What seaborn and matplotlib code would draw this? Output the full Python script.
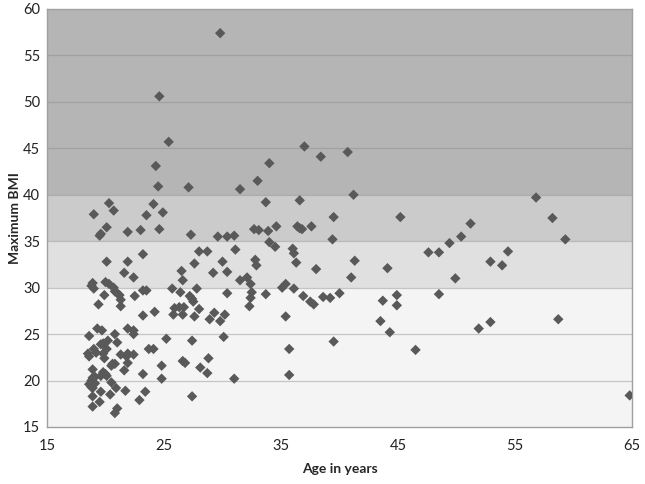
import matplotlib
matplotlib.use("Agg")
import matplotlib.pyplot as plt
import seaborn as sns
import pandas as pd

# age (years) and maximum BMI
age = [29.8, 24.6, 25.4, 24.3, 24.5, 27.1, 31.5, 33.0, 34.0, 37.0, 38.4, 40.7, 41.2,
       20.3, 19.0, 20.7, 24.1, 24.9, 23.5, 33.7, 36.6, 39.5, 34.6, 36.4, 36.8, 37.6,
       32.7, 33.1, 33.9, 20.1, 19.5, 19.6, 21.9, 23.0, 24.6, 27.3, 29.6, 30.4, 31.0,
       39.4, 36.6,
       23.2, 28.0, 28.7, 31.1, 20.1, 21.9, 32.8, 32.9, 27.6, 30.0, 21.6, 22.4, 26.5,
       29.2, 30.4, 26.6, 31.5, 32.1, 32.4, 18.9, 19.0, 18.8, 20.0, 20.3, 20.7, 20.8,
       21.0, 21.2, 21.3, 21.3, 19.9, 19.4, 22.5, 23.2, 23.5, 25.7, 26.4, 27.8, 27.2,
       27.4, 27.5, 30.4, 32.5, 32.4, 32.3, 25.9, 26.3, 26.7, 25.8, 26.6, 23.2, 24.2,
       27.6, 28.0, 28.9, 29.3, 29.8, 30.2, 19.3, 19.7, 18.6, 20.8, 21.9, 22.4, 22.4,
       25.2, 27.4, 30.1, 20.2, 19.8, 19.6, 21.0, 19.0, 19.2, 18.6, 18.5, 20.1, 19.8,
       19.9, 21.3, 21.9, 22.4, 21.8, 23.7, 24.1, 26.6, 26.8, 28.8, 28.1, 28.7, 24.8,
       31.0, 24.8, 23.2, 20.8, 20.5, 20.6, 21.9, 21.6, 18.9, 19.8, 20.0, 19.6, 20.1,
       18.9, 19.1, 18.8, 19.1, 18.6, 18.8, 18.9, 20.5, 20.9, 21.7, 19.6, 20.4, 23.4,
       22.9, 27.4, 18.9, 19.5, 18.9, 21.0, 20.8,
       45.2, 34.0, 34.5, 36.0, 36.1, 36.3, 38.0, 41.3, 47.6, 48.5, 44.1, 41.0, 35.1,
       35.4, 36.1, 33.7, 36.9, 37.5, 37.8, 38.6, 39.2, 40.0, 35.4, 43.7, 44.9, 44.9,
       48.5, 43.5, 44.3, 39.5, 35.7, 46.5, 35.7,
       56.8, 58.2, 59.3, 51.2, 50.4, 49.4, 54.4, 52.9, 53.9, 49.9, 51.9, 52.9, 58.7,
       64.8]
bmi = [57.4, 50.6, 45.7, 43.1, 40.9, 40.8, 40.6, 41.5, 43.4, 45.2, 44.1, 44.6, 40.0,
       39.1, 37.9, 38.3, 39.0, 38.1, 37.8, 39.2, 39.4, 37.6, 36.6, 36.6, 36.3, 36.6,
       36.3, 36.2, 36.1, 36.5, 35.6, 35.8, 36.0, 36.2, 36.3, 35.7, 35.5, 35.5, 35.6,
       35.2, 36.4,
       33.6, 33.9, 33.9, 34.1, 32.8, 32.8, 33.0, 32.4, 32.6, 32.8, 31.6, 31.1, 31.8,
       31.6, 31.7, 30.8, 30.8, 31.1, 30.4, 30.5, 29.9, 30.2, 30.6, 30.4, 30.0, 29.6,
       29.4, 29.2, 28.7, 28.0, 29.2, 28.2, 29.1, 29.7, 29.7, 29.9, 29.5, 29.9, 29.1,
       28.8, 28.5, 29.4, 29.5, 28.9, 28.0, 27.8, 27.9, 27.9, 27.1, 27.1, 27.0, 27.4,
       26.9, 27.7, 26.6, 27.3, 26.4, 27.1, 25.6, 25.4, 24.8, 25.0, 25.6, 25.4, 25.0,
       24.5, 24.3, 24.7, 24.3, 24.0, 23.9, 24.1, 23.4, 23.0, 22.6, 22.9, 23.4, 22.9,
       22.4, 22.8, 22.9, 22.8, 22.6, 23.4, 23.4, 22.1, 21.9, 22.4, 21.4, 20.8, 21.6,
       20.2, 20.2, 20.7, 21.8, 21.6, 21.8, 21.9, 21.1, 21.2, 20.9, 20.7, 20.5, 20.5,
       20.3, 20.4, 20.0, 19.7, 19.6, 19.3, 19.2, 19.8, 19.2, 18.9, 18.8, 18.5, 18.8,
       17.9, 18.3, 18.3, 17.7, 17.2, 17.0, 16.5,
       37.6, 34.9, 34.4, 34.2, 33.7, 32.7, 32.0, 32.9, 33.8, 33.8, 32.1, 31.1, 30.0,
       30.4, 29.9, 29.3, 29.1, 28.5, 28.2, 29.0, 28.9, 29.4, 26.9, 28.6, 29.2, 28.1,
       29.3, 26.4, 25.2, 24.2, 23.4, 23.3, 20.6,
       39.7, 37.5, 35.2, 36.9, 35.5, 34.8, 33.9, 32.8, 32.4, 31.0, 25.6, 26.3, 26.6,
       18.4]

# BMI bands shaded behind the points
band_edges = [15, 30, 35, 40, 60]
band_colors = ["#f4f4f4", "#e0e0e0", "#cbcbcb", "#b5b5b5"]

df = pd.DataFrame({"Age in years": age, "Maximum BMI": bmi})

sns.set_style("white")
plt.rcParams["font.family"] = ["Lato", "DejaVu Sans"]

fig = plt.figure(figsize=(6.45, 4.84), dpi=100)
ax = fig.add_axes([47 / 645, 1 - 427 / 484, 585 / 645, 418 / 484])

for lo, hi, c in zip(band_edges[:-1], band_edges[1:], band_colors):
    ax.axhspan(lo, hi, color=c, zorder=0, lw=0)
for yy in range(20, 60, 5):
    ax.axhline(yy, color="#8a8a8a", lw=0.9, alpha=0.45, zorder=1)

sns.scatterplot(data=df, x="Age in years", y="Maximum BMI", ax=ax, marker="D",
                s=28, color="#595959", edgecolor="none", zorder=3)

ax.set_xlim(15, 65)
ax.set_ylim(15, 60)
ax.set_xticks(range(15, 66, 10))
ax.set_yticks(range(15, 61, 5))
ax.tick_params(axis="both", length=0, labelsize=10.5, colors="#222222")
ax.tick_params(axis="x", pad=9)
ax.tick_params(axis="y", pad=5)
ax.set_xlabel("Age in years", fontsize=10, fontweight="bold", labelpad=7)
ax.set_ylabel("Maximum BMI", fontsize=10, fontweight="bold")
ax.yaxis.set_label_coords(-0.045, 0.5)
for sp in ax.spines.values():
    sp.set_color("#a0a0a0")
    sp.set_linewidth(1.0)

fig.savefig("out.png", dpi=100)
